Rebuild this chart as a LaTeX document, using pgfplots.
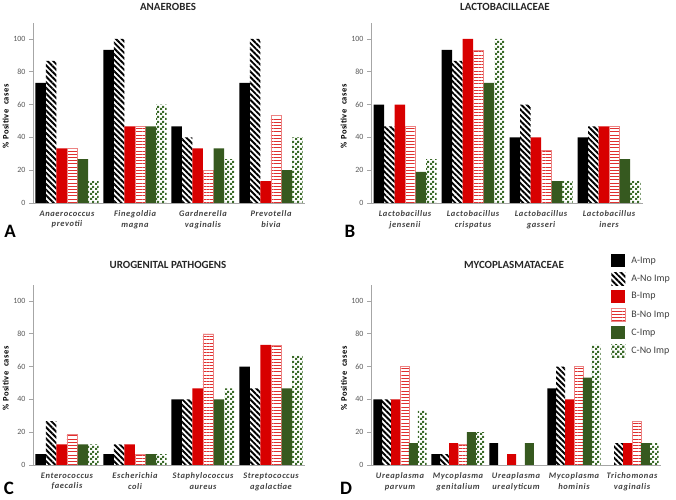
\documentclass[border=0pt]{standalone}
\usepackage{fontspec}
\setmainfont{Carlito}
\newfontfamily\catfont[LetterSpace=7]{Carlito}
\newfontfamily\labfont[LetterSpace=5]{Carlito}
\usepackage{pgfplots}
\pgfplotsset{compat=1.18}
\usetikzlibrary{patterns,patterns.meta}
\definecolor{tickgray}{HTML}{595959}
\definecolor{axgray}{HTML}{A6A6A6}
\definecolor{catgray}{HTML}{404040}
\definecolor{gsolid}{HTML}{36591F}
\definecolor{rsolid}{HTML}{D80000}
\definecolor{gpat}{HTML}{3A6A28}
\definecolor{rpat}{HTML}{E03030}

\tikzdeclarepattern{
  name=smallchecks,
  type=uncolored,
  bounding box={(0bp,0bp) and (5bp,5bp)},
  tile size={(5bp,5bp)},
  code={
    \pgfpathrectangle{\pgfpoint{0bp}{0bp}}{\pgfpoint{2.5bp}{2.5bp}}
    \pgfpathrectangle{\pgfpoint{2.5bp}{2.5bp}}{\pgfpoint{2.5bp}{2.5bp}}
    \pgfusepath{fill}
  }
}

\pgfplotsset{
 panel/.style={
  scale only axis, height=180.4bp, anchor=south west,
  ybar=0pt, ymin=0, ymax=110, ytick={0,20,40,60,80,100},
  axis x line*=bottom, axis y line*=left,
  axis line style={axgray,-,line width=0.6bp},
  xtick style={draw=none}, ytick style={axgray,line width=0.6bp},
  tick align=outside, major tick length=4bp,
  /pgf/number format/assume math mode=true,
  yticklabel style={font=\fontsize{8}{9}\selectfont, text=tickgray},
  xticklabel style={align=center, font=\catfont\bfseries\itshape\fontsize{8.5}{11}\selectfont, text=catgray},
  ylabel={\% Positive\ \ cases},
  ylabel style={font=\labfont\bfseries\fontsize{8.5}{10}\selectfont, anchor=center},
  legend image code/.code={\path[##1] (0bp,-6.5bp) rectangle (14bp,6.5bp);},
 },
 sAI/.style={fill=black, draw=none},
 sAN/.style={draw=none, pattern={Lines[angle=-45,distance=4bp,line width=1.9bp]}, pattern color=black},
 sBI/.style={draw=none, fill=rsolid},
 sBN/.style={draw=rpat!60, line width=0.5bp, pattern={Lines[angle=0,distance=3.2bp,line width=1bp]}, pattern color=rpat},
 sCI/.style={draw=none, fill=gsolid},
 sCN/.style={draw=none, pattern=smallchecks, pattern color=gpat},
}

\begin{document}
\begin{tikzpicture}
\path[use as bounding box] (0bp,0bp) rectangle (676bp,500bp);

% ---------------- A
\begin{axis}[panel, at={(33bp,297bp)}, width=272bp, bar width=10.5bp,
  xmin=-0.5, xmax=3.5, xtick={0,1,2,3},
  xticklabels={Anaerococcus\\prevotii, Finegoldia\\magna, Gardnerella\\vaginalis, Prevotella\\bivia},
  ylabel style={at={(axis description cs:-0.1,0.48)}}]
\addplot[sAI] coordinates {(0,73.3)(1,93.3)(2,46.7)(3,73.3)};
\addplot[sAN] coordinates {(0,86.7)(1,100)(2,40)(3,100)};
\addplot[sBI] coordinates {(0,33.3)(1,46.7)(2,33.3)(3,13.3)};
\addplot[sBN] coordinates {(0,33.3)(1,46.7)(2,20)(3,53.3)};
\addplot[sCI] coordinates {(0,26.7)(1,46.7)(2,33.3)(3,20)};
\addplot[sCN] coordinates {(0,13.3)(1,60)(2,26.7)(3,40)};
\end{axis}

% ---------------- B
\begin{axis}[panel, at={(371bp,297bp)}, width=272bp, bar width=10.5bp,
  xmin=-0.5, xmax=3.5, xtick={0,1,2,3},
  xticklabels={Lactobacillus\\jensenii, Lactobacillus\\crispatus, Lactobacillus\\gasseri, Lactobacillus\\iners},
  ylabel style={at={(axis description cs:-0.1,0.48)}}]
\addplot[sAI] coordinates {(0,60)(1,93.3)(2,40)(3,40)};
\addplot[sAN] coordinates {(0,46.7)(1,86.7)(2,60)(3,46.7)};
\addplot[sBI] coordinates {(0,60)(1,100)(2,40)(3,46.7)};
\addplot[sBN] coordinates {(0,46.7)(1,93.3)(2,32)(3,46.7)};
\addplot[sCI] coordinates {(0,19)(1,73.3)(2,13.3)(3,26.7)};
\addplot[sCN] coordinates {(0,26.7)(1,100)(2,13.3)(3,13.3)};
\end{axis}

% ---------------- C
\begin{axis}[panel, at={(33bp,35bp)}, width=272bp, bar width=10.5bp,
  xmin=-0.5, xmax=3.5, xtick={0,1,2,3},
  xticklabels={Enterococcus\\faecalis, Escherichia\\coli, Staphylococcus\\aureus, Streptococcus\\agalactiae},
  ylabel style={at={(axis description cs:-0.1,0.48)}}]
\addplot[sAI] coordinates {(0,6.7)(1,6.7)(2,40)(3,60)};
\addplot[sAN] coordinates {(0,26.7)(1,12.5)(2,40)(3,46.7)};
\addplot[sBI] coordinates {(0,12.5)(1,12.5)(2,46.7)(3,73.3)};
\addplot[sBN] coordinates {(0,18.8)(1,6.7)(2,80)(3,73.3)};
\addplot[sCI] coordinates {(0,12.5)(1,6.7)(2,40)(3,46.7)};
\addplot[sCN] coordinates {(0,12.5)(1,6.7)(2,46.7)(3,66.7)};
\end{axis}

% ---------------- D
\begin{axis}[panel, at={(371bp,35bp)}, width=290bp, bar width=8.9bp,
  xmin=-0.5, xmax=4.5, xtick={0,1,2,3,4},
  xticklabels={Ureaplasma\\parvum, Mycoplasma\\genitalium, Ureaplasma\\urealyticum, Mycoplasma\\hominis, Trichomonas\\vaginalis},
  ylabel style={at={(axis description cs:-0.093,0.48)}},
  legend cell align=left,
  legend style={at={(0.8276,1.1696)}, anchor=north west, draw=none, fill=none,
    inner sep=0pt, row sep=4.9bp, column sep=5.7bp,
    nodes={inner sep=0pt, font=\fontsize{10}{12}\selectfont, text=catgray}}]
\addplot[sAI] coordinates {(0,40)(1,6.7)(2,13.3)(3,46.7)};
\addplot[sAN] coordinates {(0,40)(1,6.7)(3,60)(4,13.3)};
\addplot[sBI] coordinates {(0,40)(1,13.3)(2,6.7)(3,40)(4,13.3)};
\addplot[sBN] coordinates {(0,60)(1,12.5)(3,60)(4,26.7)};
\addplot[sCI] coordinates {(0,13.3)(1,20)(2,13.3)(3,53.3)(4,13.3)};
\addplot[sCN] coordinates {(0,33.3)(1,20)(3,73.3)(4,13.3)};
\legend{A-Imp, A-No Imp, B-Imp, B-No Imp, C-Imp, C-No Imp}
\end{axis}

% titles and panel letters
\node[font=\bfseries\fontsize{11}{13}\selectfont, text=black!85] at (168bp,493.5bp) {ANAEROBES};
\node[font=\bfseries\fontsize{11}{13}\selectfont, text=black!85] at (505bp,493.5bp) {LACTOBACILLACEAE};
\node[font=\bfseries\fontsize{11}{13}\selectfont, text=black!85] at (168bp,235bp) {UROGENITAL PATHOGENS};
\node[font=\bfseries\fontsize{11}{13}\selectfont, text=black!85] at (514bp,235bp) {MYCOPLASMATACEAE};
\node[font=\bfseries\fontsize{19}{22}\selectfont] at (10bp,269bp) {A};
\node[font=\bfseries\fontsize{19}{22}\selectfont] at (350bp,269bp) {B};
\node[font=\bfseries\fontsize{19}{22}\selectfont] at (9bp,12bp) {C};
\node[font=\bfseries\fontsize{19}{22}\selectfont] at (346bp,12bp) {D};
\end{tikzpicture}
\end{document}
